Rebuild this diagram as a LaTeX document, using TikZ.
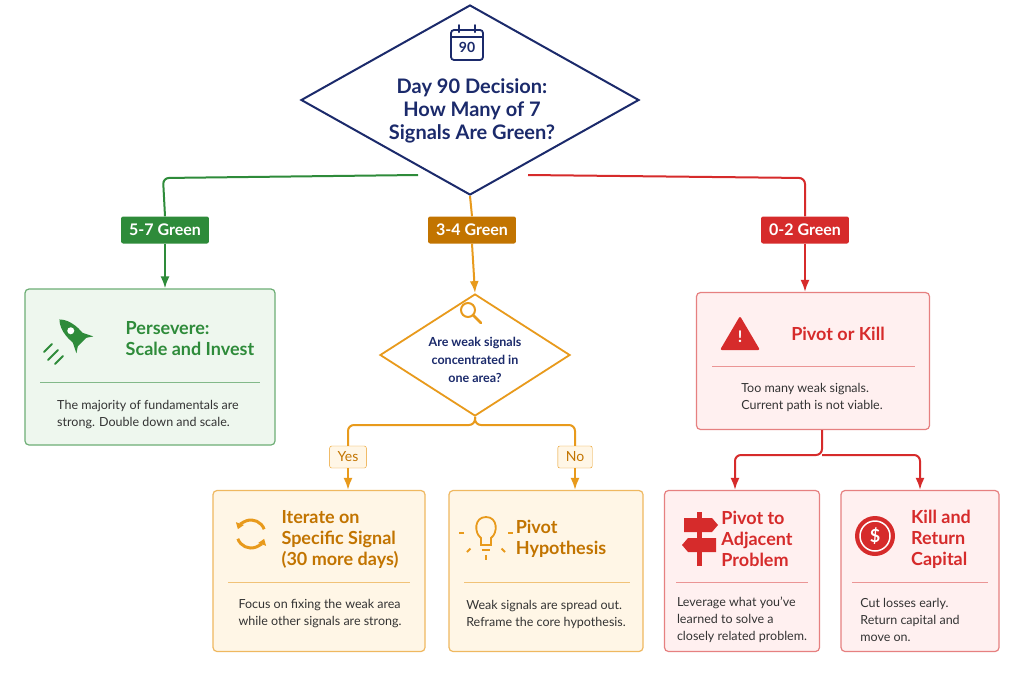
\documentclass[tikz,border=0pt]{standalone}
\usepackage{fontspec}
\setmainfont{Lato}
\usetikzlibrary{positioning,shapes.geometric,arrows.meta,calc}
\definecolor{navy}{HTML}{1B2A6B}
\definecolor{ggreen}{HTML}{2E8B3A}
\definecolor{lgreen}{HTML}{EEF7EE}
\definecolor{gorange}{HTML}{E89A1C}
\definecolor{dorange}{HTML}{C27400}
\definecolor{lorange}{HTML}{FFF6E6}
\definecolor{gred}{HTML}{D62B2B}
\definecolor{lred}{HTML}{FFF0F0}
\definecolor{bodytext}{HTML}{333333}
\tikzset{
	>=Latex,
	tag/.style={rectangle, rounded corners=2pt, text=white, font=\bfseries\fontsize{16}{16}\selectfont, inner xsep=8pt, minimum height=27pt},
	answer/.style={rectangle, rounded corners=2pt, draw=gorange, fill=lorange, text=dorange, font=\fontsize{14}{14}\selectfont, inner xsep=8pt, minimum height=22pt},
	card/.style={rectangle, rounded corners=4pt, line width=1.2pt},
	head/.style={font=\bfseries\fontsize{18}{21}\selectfont, align=left},
	body/.style={font=\fontsize{12.5}{17}\selectfont, text=bodytext, align=left},
	wire/.style={line width=2pt, rounded corners=6pt}
}
\begin{document}
\begin{tikzpicture}[x=1pt,y=-1pt]
	\useasboundingbox (0,0) rectangle (1024,683);
	\fill[white] (0,0) rectangle (1024,683);

	% Top decision
	\node [diamond, draw=navy, line width=2pt, fill=white, minimum width=338pt, minimum height=190pt, inner sep=0pt] (top) at (470,100) {};
	\node [draw=navy, line width=1.8pt, rounded corners=3pt, minimum width=32pt, minimum height=30pt, text depth=0pt, font=\bfseries\fontsize{14}{14}\selectfont, text=navy, yshift=0pt] (cal) at (467,45) {\raisebox{-4pt}{90}};
	\draw[navy, line width=1.6pt] (cal.north west) ++(0,8) -- ++(32,0);
	\draw[navy, line width=1.8pt, line cap=round] (cal.north) ++(-8,-4) -- ++(0,7) (cal.north) ++(8,-4) -- ++(0,7);
	\node [font=\bfseries\fontsize{20}{23}\selectfont, text=navy, align=center] (toptext) at (472,111) {Day 90 Decision:\\How Many of 7\\Signals Are Green?};

	% Tags
	\node [tag, fill=ggreen] (tg) at (165,230) {5-7 Green};
	\node [tag, fill=dorange] (to) at (472,230) {3-4 Green};
	\node [tag, fill=gred] (tr) at (805,230) {0-2 Green};

	% Green card
	\node [card, draw=ggreen!70, fill=lgreen, minimum width=250pt, minimum height=156pt] (grn) at (150,367) {};
	\node [head, text=ggreen] (grnhead) at (190,339) {Persevere:\\Scale and Invest};
	\draw[ggreen!60] (40,382) -- (260,382);
	\node [body] (grnbody) at (148,415) {The majority of fundamentals are\\strong. Double down and scale.};
	% rocket
	\begin{scope}[shift={(75,335)}, rotate=45, ggreen]
		\fill (0,-22) .. controls (8,-14) and (8,0) .. (6,10) -- (-6,10) .. controls (-8,0) and (-8,-14) .. (0,-22);
		\fill (-6,2) -- (-12,14) -- (-6,10) -- cycle (6,2) -- (12,14) -- (6,10) -- cycle;
		\fill[white] (0,-6) circle (3.5);
	\end{scope}
	\draw[ggreen, line width=2pt, line cap=round] (58,350) -- (48,360) (63,356) -- (55,364) (52,344) -- (44,352);

	% Middle question
	\node [diamond, draw=gorange, line width=1.8pt, fill=white, minimum width=190pt, minimum height=122pt, inner sep=0pt] (mid) at (475,355) {};
	\draw[gorange, line width=2pt] (468,310) circle (7);
	\draw[gorange, line width=2.5pt, line cap=round] (473,315) -- (481,323);
	\node [font=\bfseries\fontsize{12.5}{18}\selectfont, text=navy, align=center] (midtext) at (475,360) {Are weak signals\\concentrated in\\one area?};

	\node [answer] (yes) at (348,457) {Yes};
	\node [answer] (no) at (575,457) {No};

	% Orange cards
	\node [card, draw=gorange!70, fill=lorange, minimum width=212pt, minimum height=161pt] (iter) at (319,571) {};
	\node [head, text=dorange] (iterhead) at (340,539) {Iterate on\\Specific Signal\\(30 more days)};
	\draw[gorange!60] (228,582) -- (410,582);
	\node [body] (iterbody) at (320,614) {Focus on fixing the weak area\\while other signals are strong.};
	\begin{scope}[shift={(251,534)}, gorange, line width=3pt]
		\draw[-{Triangle[length=6pt,width=8pt]}] (160:14) arc (160:20:14);
		\draw[-{Triangle[length=6pt,width=8pt]}] (-20:14) arc (-20:-160:14);
	\end{scope}

	\node [card, draw=gorange!70, fill=lorange, minimum width=194pt, minimum height=161pt] (hypo) at (546,571) {};
	\node [head, text=dorange] (hypohead) at (561,539) {Pivot\\Hypothesis};
	\draw[gorange!60] (464,582) -- (630,582);
	\node [body] (hypobody) at (546,614) {Weak signals are spread out.\\Reframe the core hypothesis.};
	\begin{scope}[shift={(486,533)}, gorange, line width=1.8pt]
		\draw (-5,12) -- (-5,5) .. controls (-12,0) and (-12,-16) .. (0,-16) .. controls (12,-16) and (12,0) .. (5,5) -- (5,12) -- cycle;
		\draw (-4,17) -- (4,17);
		\foreach \a in {90,135,45,180,0} \draw (\a:22) -- (\a:27);
	\end{scope}

	% Red card
	\node [card, draw=gred!60, fill=lred, minimum width=233pt, minimum height=137pt] (kill) at (813,361) {};
	\node [head, text=gred] (killhead) at (838,334) {Pivot or Kill};
	\draw[gred!50] (712,366) -- (915,366);
	\node [body] (killbody) at (812,397) {Too many weak signals.\\Current path is not viable.};
	\fill[gred, rounded corners=2pt] (740,316) -- (760,350) -- (720,350) -- cycle;
	\node [text=white, font=\bfseries\fontsize{16}{16}\selectfont] at (740,337) {!};

	% Red sub cards
	\node [card, draw=gred!60, fill=lred, minimum width=155pt, minimum height=161pt] (adj) at (742,571) {};
	\node [head, text=gred] (adjhead) at (757,539) {Pivot to\\Adjacent\\Problem};
	\draw[gred!50] (676,582) -- (808,582);
	\node [body] (adjbody) at (742,620) {Leverage what you've\\learned to solve a\\closely related problem.};
	\begin{scope}[gred]
		\fill (697,512) rectangle (702,566);
		\fill (684,518) -- (712,518) -- (718,525) -- (712,532) -- (684,532) -- cycle;
		\fill (716,538) -- (688,538) -- (682,545) -- (688,552) -- (716,552) -- cycle;
	\end{scope}

	\node [card, draw=gred!60, fill=lred, minimum width=158pt, minimum height=161pt] (cap) at (920,571) {};
	\node [head, text=gred] (caphead) at (941,539) {Kill and\\Return\\Capital};
	\draw[gred!50] (852,582) -- (988,582);
	\node [body] (capbody) at (910,620) {Cut losses early.\\Return capital and\\move on.};
	\fill[gred] (875,536) circle (20);
	\draw[white, line width=1.5pt] (875,536) circle (15);
	\node [text=white, font=\bfseries\fontsize{18}{18}\selectfont] at (875,536) {\$};

	% Connectors
	\draw[wire, ggreen] (418,175) -- (163,178) -- (tg.north);
	\draw[wire, ggreen, ->] (tg.south) -- (grn.north -| tg.south);
	\draw[wire, gorange] (top.south) -- (to.north);
	\draw[wire, gorange, ->] (to.south) -- (mid.north);
	\draw[wire, gred] (528,175) -- (805,178) -- (tr.north);
	\draw[wire, gred, ->] (tr.south) -- (kill.north -| tr.south);
	\draw[wire, gorange] (mid.south) |- (yes.north |- 0,425) -- (yes.north);
	\draw[wire, gorange] (mid.south) |- (no.north |- 0,425) -- (no.north);
	\draw[wire, gorange, ->] (yes.south) -- (iter.north -| yes.south);
	\draw[wire, gorange, ->] (no.south) -- (hypo.north -| no.south);
	\coordinate (split) at (822,455);
	\draw[wire, gred, ->] (kill.south -| split) -- (split) -| (adj.north -| 735,0);
	\draw[wire, gred, ->] (split) -| (cap.north -| 920,0);
\end{tikzpicture}
\end{document}
